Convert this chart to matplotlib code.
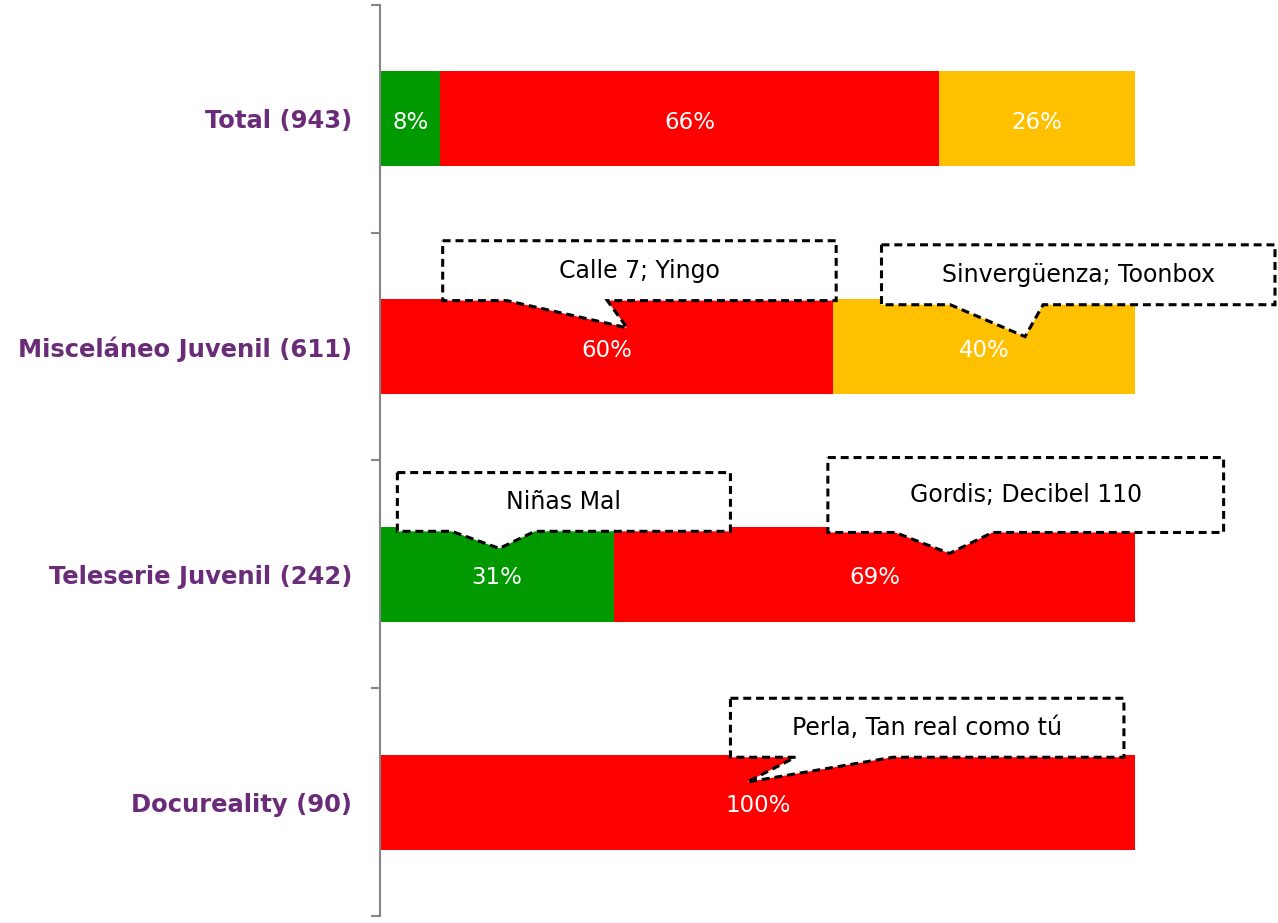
import numpy as np
import matplotlib.pyplot as plt
from matplotlib.patches import Polygon

# data
categories = ['Total (943)', 'Misceláneo Juvenil (611)', 'Teleserie Juvenil (242)', 'Docureality (90)']
green = [8, 0, 31, 0]
red = [66, 60, 69, 100]
yellow = [26, 40, 0, 0]
colors = ['#009900', '#FF0000', '#FFC000']

# callouts: text, box x0, x1, box top, box bottom, base left, base right, tip x, tip y
callouts = [
    ('Calle 7; Yingo', 8.3, 60.4, 0.535, 0.798, 16.8, 30.1, 32.7, 0.917),
    ('Sinvergüenza; Toonbox', 66.4, 118.5, 0.553, 0.816, 75.5, 87.8, 85.4, 0.956),
    ('Niñas Mal', 2.3, 46.4, 1.553, 1.811, 9.5, 20.5, 15.8, 1.886),
    ('Gordis; Decibel 110', 59.3, 111.7, 1.487, 1.816, 68.2, 81.1, 75.4, 1.908),
    ('Perla, Tan real como tú', 46.4, 98.5, 2.544, 2.803, 55.0, 67.9, 48.6, 2.912),
]

fig = plt.figure(figsize=(12.78, 9.23), dpi=100)
ax = fig.add_axes([380/1278, 1-916/923, 1-380/1278, (916-5)/923])

y = np.arange(len(categories))
left = np.zeros(len(categories))
for vals, c in zip([green, red, yellow], colors):
    vals = np.array(vals, dtype=float)
    ax.barh(y, vals, left=left, height=0.417, color=c, zorder=2)
    for yi, (l, v) in enumerate(zip(left, vals)):
        if v > 0:
            ax.text(l + v/2, yi + 0.015, '%d%%' % v, ha='center', va='center',
                    color='white', fontsize=16.5, zorder=5)
    left = left + vals

for txt, x0, x1, yt, yb, bl, br, tx, ty in callouts:
    pts = [(x0, yt), (x1, yt), (x1, yb), (br, yb), (tx, ty), (bl, yb), (x0, yb)]
    p = Polygon(pts, closed=True, facecolor='white', edgecolor='black',
                linewidth=2.2, linestyle=(0, (2.6, 1.6)), zorder=3, clip_on=False)
    ax.add_patch(p)
    ax.text((x0 + x1)/2, (yt + yb)/2, txt, ha='center', va='center',
            fontsize=17, color='black', zorder=4)

ax.set_xlim(0, 118.9)
ax.set_ylim(3.5, -0.5)
for s in ['top', 'right', 'bottom']:
    ax.spines[s].set_visible(False)
ax.spines['left'].set_color('#868686')
ax.spines['left'].set_linewidth(1.5)
ax.set_xticks([])
ax.set_yticks(np.arange(-0.5, 4, 1.0))
ax.set_yticklabels([])
ax.tick_params(axis='y', length=6.5, width=1.5, color='#868686')
ax.set_yticks(y, minor=True)
ax.set_yticklabels(categories, minor=True, fontsize=17.5, fontweight='bold', color='#6A2C78')
ax.tick_params(axis='y', which='minor', length=0, pad=20)

plt.savefig('out.png', dpi=100)
